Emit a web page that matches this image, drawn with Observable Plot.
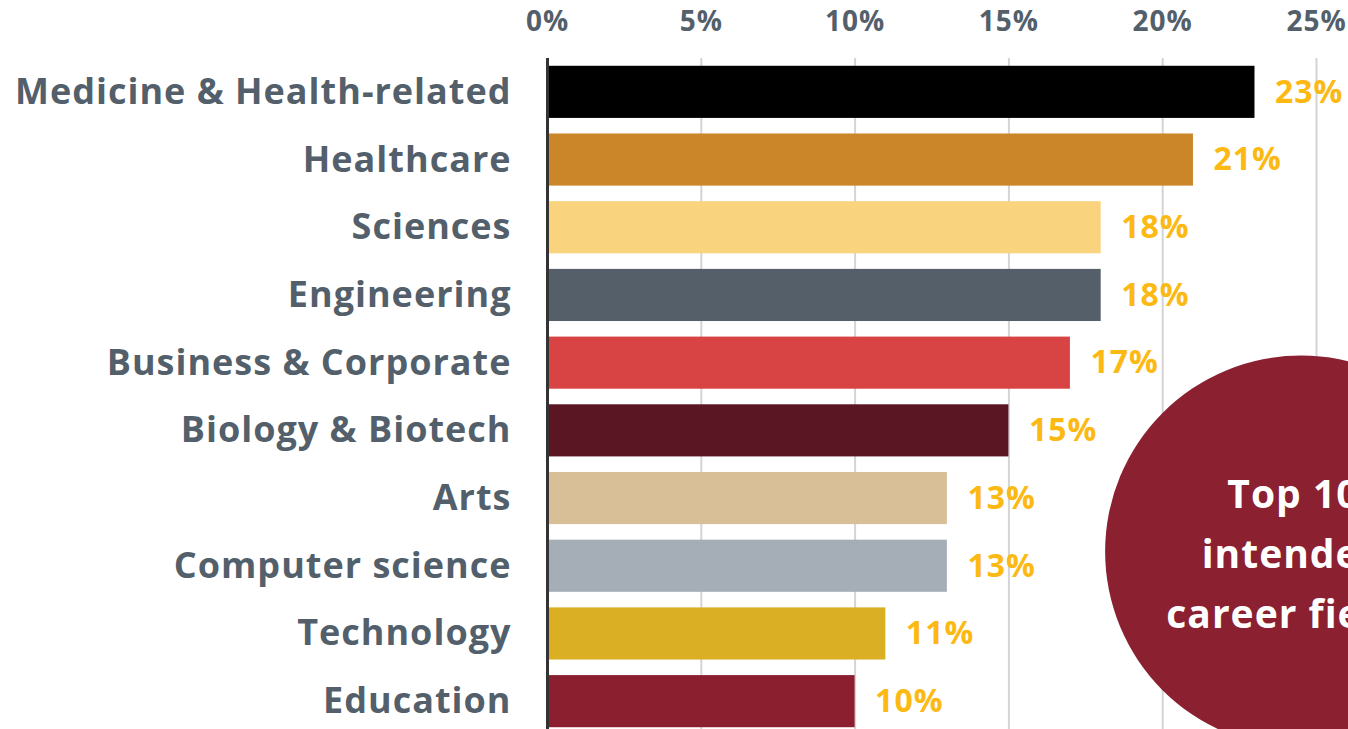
<!DOCTYPE html>
<html>
<head>
<meta charset="utf-8">
<script src="https://cdn.jsdelivr.net/npm/d3@7"></script>
<script src="https://cdn.jsdelivr.net/npm/@observablehq/plot@0.6"></script>
<style>
  html, body { margin: 0; padding: 0; background: #fff; overflow: hidden; }
  #chart svg { display: block; }
  #chart svg text { letter-spacing: 1px; }
</style>
</head>
<body>
<div id="chart"></div>
<script>
const categories = [
  "Medicine & Health-related",
  "Healthcare",
  "Sciences",
  "Engineering",
  "Business & Corporate",
  "Biology & Biotech",
  "Arts",
  "Computer science",
  "Technology",
  "Education"
];
const values = [23, 21, 18, 18, 17, 15, 13, 13, 11, 10];
const barColors = [
  "#000000", "#cc862a", "#f9d37d", "#555f69", "#d84343",
  "#5a1622", "#d8bf97", "#a5aeb7", "#dbaf24", "#8b1e2f"
];
const xTicks = [0, 5, 10, 15, 20, 25];
const calloutLines = "Top 10\nintended\ncareer fields";

const data = categories.map((c, i) => ({category: c, value: values[i], color: barColors[i]}));

const font = "'Open Sans', sans-serif";
const gray = "#535f6a";
const gold = "#fdb913";

const chart = Plot.plot({
  width: 1348,
  height: 735,
  marginTop: 58,
  marginBottom: 0,
  marginLeft: 547,
  marginRight: 32,
  style: {fontFamily: font, background: "#fff"},
  x: {domain: [0, 25]},
  y: {domain: categories, paddingInner: 0.23, paddingOuter: 0.115, round: false},
  marks: [
    Plot.gridX(xTicks, {stroke: "#d4d4d4", strokeOpacity: 1, strokeWidth: 2}),
    Plot.barX(data, {y: "category", x: "value", fill: "color"}),
    Plot.ruleX([0], {stroke: "#333", strokeWidth: 3}),
    Plot.text(data, {
      y: "category", x: "value", text: d => d.value + "%",
      textAnchor: "start", dx: 20, fill: gold, fontSize: 32, fontWeight: 700
    }),
    Plot.axisX(xTicks, {
      anchor: "top", tickSize: 0, tickPadding: 28, tickFormat: d => d + "%",
      fontSize: 28, fontWeight: 700, fill: gray, label: null
    }),
    Plot.axisY({
      tickSize: 0, tickPadding: 36, fontSize: 36, fontWeight: 700,
      fill: gray, label: null
    }),
    Plot.dot([0], {x: () => 24.5, y: () => "Arts", dy: 53, r: 196, fill: "#8b2031", stroke: null}),
    Plot.text([calloutLines], {
      x: () => 24.25, y: () => "Arts", dy: 50, text: d => d,
      fill: "#fff", fontSize: 39, fontWeight: 700, lineHeight: 1.54, textAnchor: "middle"
    })
  ]
});
document.getElementById("chart").appendChild(chart);
</script>
</body>
</html>
